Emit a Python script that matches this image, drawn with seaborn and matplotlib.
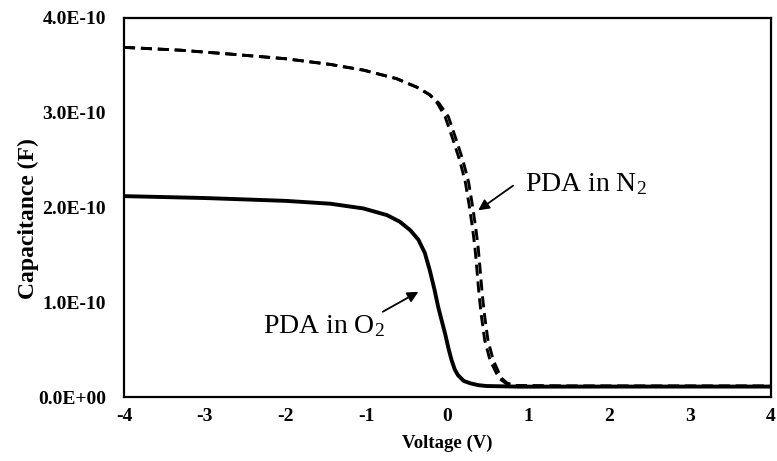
import matplotlib
matplotlib.use("Agg")
import matplotlib.pyplot as plt
import seaborn as sns
import pandas as pd

# ---- data (capacitance in units of 1e-10 F) ----
o2_voltage = [-4.0, -3.0, -2.0, -1.45, -1.04, -0.75, -0.59, -0.46, -0.36, -0.28, -0.22,
              -0.16, -0.115, -0.07, -0.03, 0.01, 0.05, 0.09, 0.13, 0.20, 0.28, 0.38,
              0.48, 0.90, 2.0, 3.0, 4.0]
o2_cap = [2.12, 2.10, 2.07, 2.04, 1.99, 1.92, 1.85, 1.76, 1.66, 1.52, 1.34,
          1.13, 0.95, 0.80, 0.67, 0.52, 0.39, 0.29, 0.23, 0.17, 0.145, 0.125,
          0.116, 0.109, 0.11, 0.11, 0.11]

n2_cap = [3.69, 3.66, 3.62, 3.57, 3.51, 3.45, 3.36, 3.27, 3.19, 3.10, 2.96, 2.71,
          2.50, 2.27, 2.04, 1.78, 1.57, 1.33, 1.08, 0.85, 0.60, 0.39, 0.20, 0.145,
          0.12, 0.115, 0.115]
n2_voltage_a = [-4.0, -3.3, -2.7, -2.0, -1.45, -1.04, -0.63, -0.38, -0.22, -0.125, -0.03, 0.07,
                0.15, 0.22, 0.265, 0.31, 0.34, 0.365, 0.39, 0.42, 0.46, 0.525, 0.635, 0.72,
                0.85, 1.5, 4.0]
n2_voltage_b = [-4.0, -3.3, -2.7, -2.0, -1.45, -1.04, -0.63, -0.38, -0.22, -0.105, 0.01, 0.11,
                0.19, 0.26, 0.305, 0.35, 0.38, 0.405, 0.43, 0.46, 0.50, 0.565, 0.665, 0.74,
                0.85, 1.5, 4.0]

x_ticks = [-4, -3, -2, -1, 0, 1, 2, 3, 4]
y_ticks = [0.0, 1.0, 2.0, 3.0, 4.0]
y_tick_labels = ["0.0E+00", "1.0E-10", "2.0E-10", "3.0E-10", "4.0E-10"]

sns.set_theme(style="white")
plt.rcParams["font.family"] = ["Liberation Serif", "DejaVu Serif"]
plt.rcParams["mathtext.fontset"] = "custom"
plt.rcParams["mathtext.rm"] = "Liberation Serif"
plt.rcParams["mathtext.it"] = "Liberation Serif:italic"

fig = plt.figure(figsize=(7.77, 4.61), dpi=100)
ax = fig.add_axes([124 / 777, 1 - 397 / 461, (771 - 124) / 777, (397 - 18) / 461])

df_o2 = pd.DataFrame({"V": o2_voltage, "C": o2_cap})
df_na = pd.DataFrame({"V": n2_voltage_a, "C": n2_cap})
df_nb = pd.DataFrame({"V": n2_voltage_b, "C": n2_cap})

sns.lineplot(data=df_na, x="V", y="C", ax=ax, sort=False, estimator=None,
             color="black", lw=2.1)
sns.lineplot(data=df_nb, x="V", y="C", ax=ax, sort=False, estimator=None,
             color="black", lw=2.1)
for ln in ax.lines:
    ln.set_dashes([3.8, 2.0])
    ln.set_dash_capstyle("butt")
    ln.set_solid_joinstyle("round")
sns.lineplot(data=df_o2, x="V", y="C", ax=ax, sort=False, estimator=None,
             color="black", lw=2.8)
ax.lines[-1].set_solid_joinstyle("round")

ax.set_xlim(-4, 4)
ax.set_ylim(0, 4.0)
ax.set_xticks(x_ticks)
ax.set_xticklabels([str(t) for t in x_ticks])
ax.set_yticks(y_ticks)
ax.set_yticklabels(y_tick_labels)
ax.tick_params(axis="both", length=0, labelsize=14, colors="black")
ax.tick_params(axis="y", pad=13)
ax.tick_params(axis="x", pad=8)
for lab in ax.get_xticklabels() + ax.get_yticklabels():
    lab.set_fontweight("bold")

for sp in ax.spines.values():
    sp.set_visible(True)
    sp.set_color("black")
    sp.set_linewidth(1.6)

ax.set_xlabel("Voltage (V)", fontsize=13.5, fontweight="bold", color="black")
ax.set_ylabel("Capacitance (F)", fontsize=17, fontweight="bold", color="black")
ax.xaxis.set_label_coords(0.5, -0.100)
ax.yaxis.set_label_coords(-0.131, 0.472)

ax.text(-2.28, 0.675, r"PDA in O$_2$", fontsize=20, ha="left", va="baseline", color="black")
ax.text(0.957, 2.17, r"PDA in N$_2$", fontsize=20, ha="left", va="baseline", color="black")

arrow = dict(arrowstyle="-|>", lw=1.3, color="black", mutation_scale=16, shrinkA=0, shrinkB=0)
ax.annotate("", xy=(-0.36, 1.11), xytext=(-0.80, 0.90), arrowprops=arrow)
ax.annotate("", xy=(0.38, 1.97), xytext=(0.81, 2.23), arrowprops=arrow)

if ax.get_legend() is not None:
    ax.get_legend().remove()

fig.savefig("out.png", dpi=100)
